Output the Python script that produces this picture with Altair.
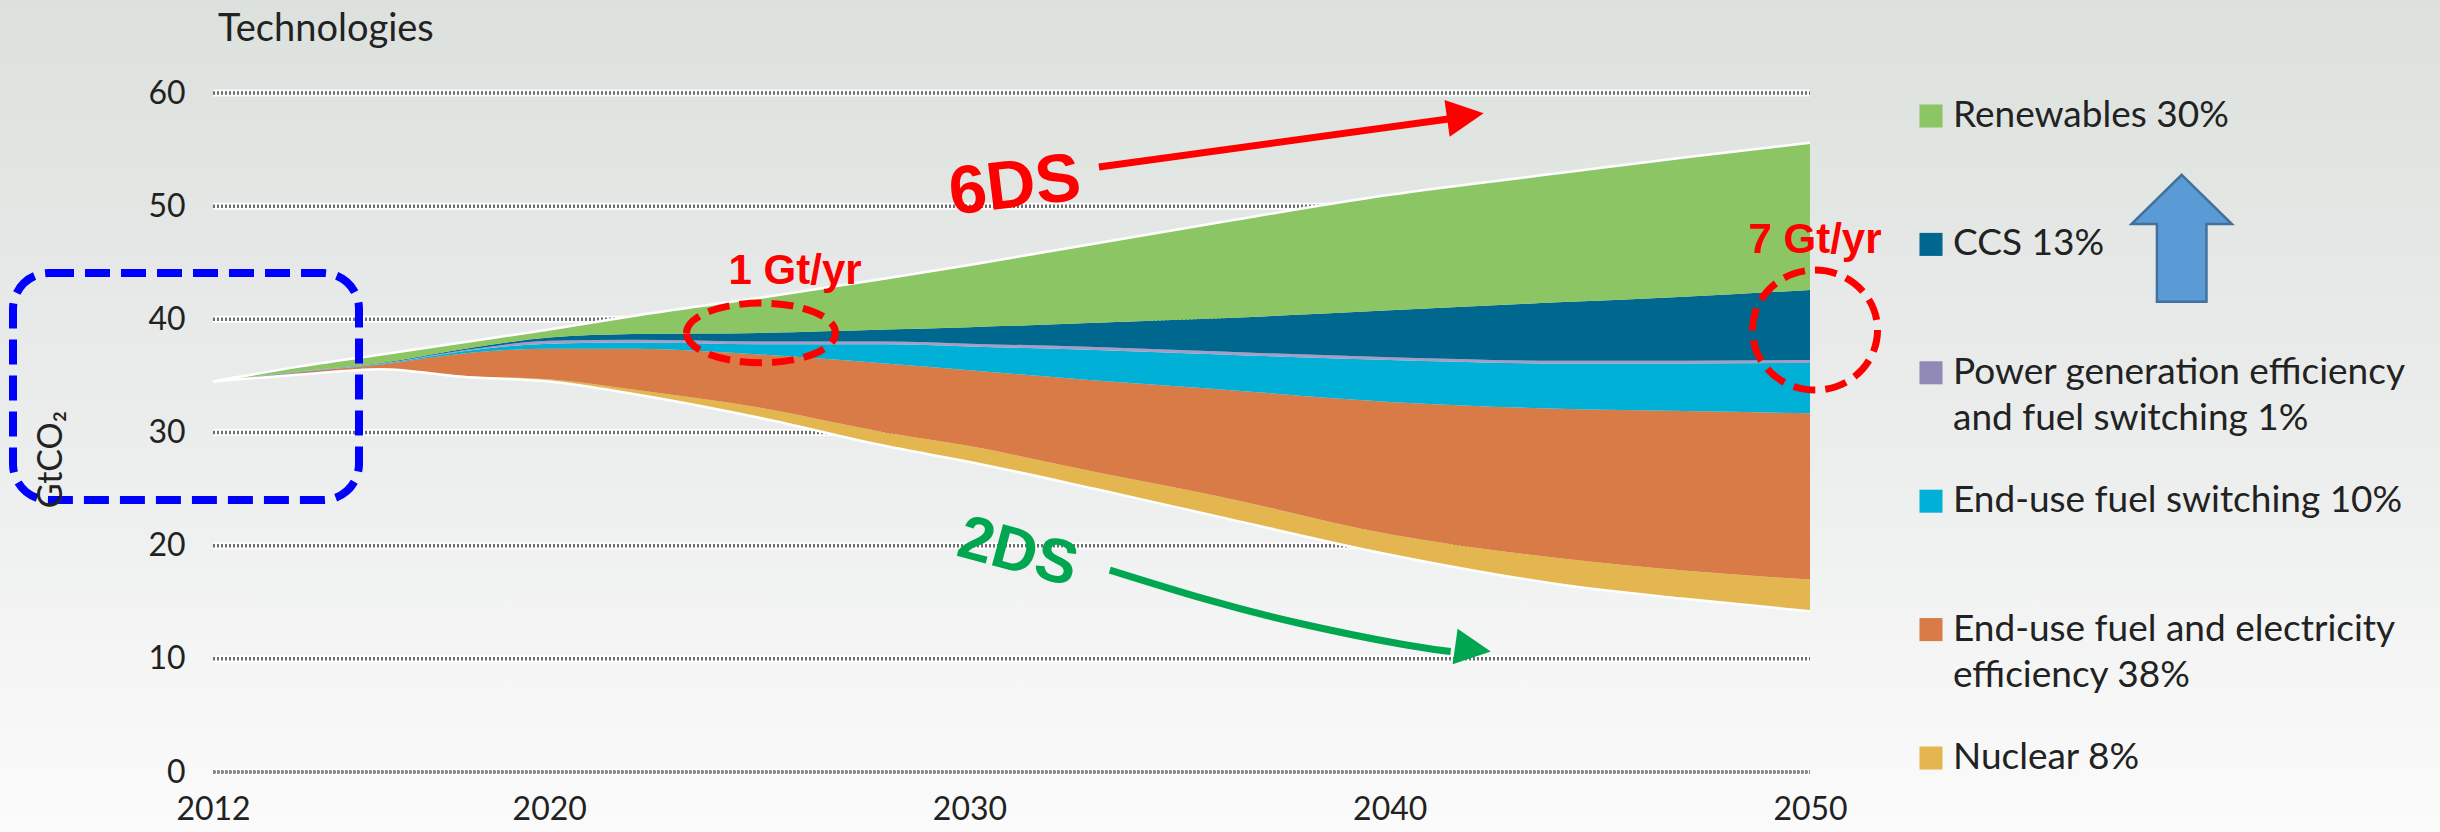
import altair as alt
import pandas as pd

# ---- CO2 emission reductions by technology, GtCO2 per year ----
years = [2012, 2014, 2016, 2018, 2020, 2022, 2025, 2028, 2030, 2033, 2036, 2040, 2044, 2047, 2050]
emissions_2ds = [34.5, 35.1, 35.6, 34.9, 34.5, 33.4, 31.3, 28.8, 27.4, 25.0, 22.5, 19.2, 16.6, 15.3, 14.2]
nuclear = [0.0, 0.0, 0.0, 0.1, 0.2, 0.4, 0.9, 1.2, 1.4, 1.5, 1.8, 1.8, 2.3, 2.5, 2.8]
end_use_efficiency = [0.0, 0.2, 0.4, 2.0, 2.7, 3.6, 4.7, 6.1, 6.7, 8.1, 9.5, 11.7, 13.2, 14.1, 14.7]
end_use_fuel_switching = [0.0, 0.05, 0.05, 0.2, 0.45, 0.55, 0.9, 1.7, 2.1, 2.7, 3.1, 3.7, 4.0, 4.2, 4.45]
power_generation = [0.0, 0.05, 0.05, 0.1, 0.25, 0.25, 0.25, 0.25, 0.25, 0.25, 0.25, 0.25, 0.25, 0.25, 0.25]
ccs = [0.0, 0.0, 0.05, 0.1, 0.3, 0.5, 0.75, 1.05, 1.45, 2.15, 2.95, 4.15, 5.15, 5.65, 6.2]
renewables = [0.0, 0.4, 0.75, 0.6, 0.7, 1.6, 3.1, 4.5, 5.5, 7.0, 8.5, 10.2, 11.4, 12.3, 13.0]

tech_names = ["Nuclear", "End-use fuel and electricity efficiency", "End-use fuel switching",
              "Power generation efficiency and fuel switching", "CCS", "Renewables"]
tech_series = [nuclear, end_use_efficiency, end_use_fuel_switching, power_generation, ccs, renewables]
tech_colors = ["#e4b64f", "#d97b46", "#00b0d6", "#a59dc6", "#00678f", "#8cc564"]

legend_labels = [["Renewables 30%"], ["CCS 13%"],
                 ["Power generation efficiency", "and fuel switching 1%"],
                 ["End-use fuel switching 10%"],
                 ["End-use fuel and electricity", "efficiency 38%"], ["Nuclear 8%"]]
legend_colors = ["#8cc564", "#00678f", "#9189b5", "#00b0d6", "#d97b46", "#e4b64f"]

x_ticks = [2012, 2020, 2030, 2040, 2050]
y_ticks = [0, 10, 20, 30, 40, 50, 60]

# ---- layout ----
W, H = 1597, 679
PAD_L, PAD_T = 213, 93
TEXT = "#222222"
FONT = "Lato"
BOLD_FONT = "Liberation Sans"

# stacked wedges on top of the 2DS pathway
rows = []
lower = list(emissions_2ds)
for name, vals in zip(tech_names, tech_series):
    for i, yr in enumerate(years):
        rows.append({"year": yr, "tech": name, "lo": lower[i], "hi": lower[i] + vals[i]})
    lower = [a + b for a, b in zip(lower, vals)]
bands = pd.DataFrame(rows)
edges = pd.DataFrame({"year": years * 2,
                      "val": lower + emissions_2ds,
                      "edge": ["6DS"] * len(years) + ["2DS"] * len(years)})

xs = alt.Scale(domain=[2012, 2050], nice=False, zero=False)
ys = alt.Scale(domain=[0, 60], nice=False, zero=True)

one = alt.Data(values=[{}])

background = alt.Chart(one).mark_rect(
    color=alt.Gradient(gradient="linear", x1=0, x2=0, y1=0, y2=1,
                       stops=[alt.GradientStop(color="#dce1dd", offset=0),
                              alt.GradientStop(color="#eceeed", offset=0.55),
                              alt.GradientStop(color="#fbfbfb", offset=1)])
).encode(x=alt.value(-PAD_L), x2=alt.value(2440 - PAD_L),
         y=alt.value(-PAD_T), y2=alt.value(832 - PAD_T))

grid_df = pd.DataFrame({"val": y_ticks})
grid_under = alt.Chart(grid_df).mark_rule(color="#ffffff", strokeWidth=7, opacity=0.85).encode(
    y=alt.Y("val:Q", scale=ys), x=alt.value(0), x2=alt.value(W))
grid_dots = alt.Chart(grid_df).mark_rule(color="#6e6e6e", strokeWidth=3.5, strokeDash=[2, 2]).encode(
    y=alt.Y("val:Q", scale=ys), x=alt.value(0), x2=alt.value(W))
zero_line = alt.Chart(pd.DataFrame({"val": [0]})).mark_rule(
    color="#8a8a8a", strokeWidth=3, strokeDash=[3, 1]).encode(
    y=alt.Y("val:Q", scale=ys), x=alt.value(0), x2=alt.value(W))

areas = alt.Chart(bands).mark_area(interpolate="monotone", opacity=1).encode(
    x=alt.X("year:Q", scale=xs,
            axis=alt.Axis(values=x_ticks, format="d", title=None, labelFlush=False, zindex=1,
                          labelFontSize=32, labelPadding=22, labelColor=TEXT, labelFont=FONT,
                          grid=False, ticks=False, domain=False)),
    y=alt.Y("lo:Q", scale=ys,
            axis=alt.Axis(values=y_ticks, labelFontSize=32, labelPadding=28, labelColor=TEXT,
                          labelFont=FONT, zindex=1, grid=False, ticks=False, domain=False,
                          title="GtCO₂", titleFontSize=34, titleFont=FONT,
                          titleFontWeight="normal", titleColor=TEXT, titleAngle=270,
                          titleX=-162, titleY=366, titleAlign="center", titleBaseline="middle")),
    y2="hi:Q",
    color=alt.Color("tech:N", scale=alt.Scale(domain=tech_names, range=tech_colors), legend=None),
)

edge_lines = alt.Chart(edges).mark_line(color="#ffffff", strokeWidth=2.5, interpolate="monotone").encode(
    x=alt.X("year:Q", scale=xs), y=alt.Y("val:Q", scale=ys), detail="edge:N")

# ---- annotations ----
blue_box = alt.Chart(one).mark_rect(
    filled=False, fill=None, stroke="#0000ff", strokeWidth=8, strokeDash=[25, 11], cornerRadius=36
).encode(x=alt.value(-200), x2=alt.value(146), y=alt.value(180), y2=alt.value(407))


def ellipse_path(k):
    c = 0.5523
    return (f"M -1 0 C -1 {-k*c} {-c} {-k} 0 {-k} C {c} {-k} 1 {-k*c} 1 0 "
            f"C 1 {k*c} {c} {k} 0 {k} C {-c} {k} -1 {k*c} -1 0 Z")


ring_small = alt.Chart(one).mark_point(
    shape=ellipse_path(0.40), size=149 ** 2, filled=False, color="#ff0000",
    strokeWidth=7, strokeDash=[22, 10], opacity=1
).encode(x=alt.datum(2025.04), y=alt.datum(38.8))

ring_large = alt.Chart(one).mark_point(
    shape=ellipse_path(0.96), size=125 ** 2, filled=False, color="#ff0000",
    strokeWidth=7, strokeDash=[22, 10], opacity=1
).encode(x=alt.datum(2050.12), y=alt.datum(39.05))

red_arrow_df = pd.DataFrame({"year": [2033.08, 2041.48], "val": [53.46, 57.75]})
red_shaft = alt.Chart(red_arrow_df).mark_line(color="#ff0000", strokeWidth=7).encode(
    x=alt.X("year:Q", scale=xs), y=alt.Y("val:Q", scale=ys))
HEAD = "M 1 0 L -1 -1 L -1 1 Z"
red_head = alt.Chart(one).mark_point(
    shape=HEAD, size=37 ** 2, filled=True, color="#ff0000", opacity=1, angle=352
).encode(x=alt.datum(2041.80), y=alt.datum(57.99))

green_arrow_df = pd.DataFrame({"year": [2033.34, 2035.63, 2037.72, 2040.55, 2041.45],
                               "val": [17.84, 15.19, 13.16, 11.04, 10.65]})
green_shaft = alt.Chart(green_arrow_df).mark_line(
    color="#00a650", strokeWidth=7, interpolate="basis").encode(
    x=alt.X("year:Q", scale=xs), y=alt.Y("val:Q", scale=ys))
green_head = alt.Chart(one).mark_point(
    shape=HEAD, size=36 ** 2, filled=True, color="#00a650", opacity=1, angle=8
).encode(x=alt.datum(2041.98), y=alt.datum(10.87))

label_6ds = alt.Chart(one).mark_text(
    text="6DS", font=BOLD_FONT, fontWeight="bold", fontSize=68, color="#ff0000", angle=353
).encode(x=alt.datum(2031.08), y=alt.datum(51.7))
label_2ds = alt.Chart(one).mark_text(
    text="2DS", font=BOLD_FONT, fontWeight="bold", fontSize=62, color="#00a650", angle=15
).encode(x=alt.datum(2031.15), y=alt.datum(19.4))
label_1gt = alt.Chart(one).mark_text(
    text="1 Gt/yr", font=BOLD_FONT, fontWeight="bold", fontSize=42, color="#ff0000"
).encode(x=alt.datum(2025.85), y=alt.datum(44.3))
label_7gt = alt.Chart(one).mark_text(
    text="7 Gt/yr", font=BOLD_FONT, fontWeight="bold", fontSize=42, color="#ff0000"
).encode(x=alt.datum(2050.12), y=alt.datum(47.0))

title = alt.Chart(one).mark_text(
    text="Technologies", align="left", baseline="middle", fontSize=38, font=FONT, color=TEXT
).encode(x=alt.value(5), y=alt.value(-63))

# ---- legend ----
leg_rows = []
for i, (lines, col) in enumerate(zip(legend_labels, legend_colors)):
    for j, line in enumerate(lines):
        leg_rows.append({"entry": i, "line": j, "label": line, "swatch": col})
leg_base = alt.Chart(pd.DataFrame(leg_rows)).transform_calculate(
    py="23 + datum.entry * 128.4 + datum.line * 46")
legend_text = leg_base.mark_text(
    align="left", baseline="middle", fontSize=37, font=FONT, color=TEXT
).encode(x=alt.value(1740), y=alt.Y("py:Q", scale=None), text="label:N")
legend_swatch = leg_base.transform_filter("datum.line == 0").mark_square(
    size=530, opacity=1
).encode(x=alt.value(1718), y=alt.Y("py:Q", scale=None), color=alt.Color("swatch:N", scale=None))

UP_ARROW = ("M 0 -1 L 0.79 -0.225 L 0.39 -0.225 L 0.39 1 L -0.39 1 "
            "L -0.39 -0.225 L -0.79 -0.225 Z")
blue_arrow = alt.Chart(one).mark_point(
    shape=UP_ARROW, size=127 ** 2, filled=True, fill="#5b9bd5", stroke="#41719c",
    strokeWidth=2.5, opacity=1
).encode(x=alt.value(1968.7), y=alt.value(145.3))

chart = alt.layer(
    background, grid_under, grid_dots, zero_line, areas, edge_lines,
    blue_box, ring_small, ring_large,
    red_shaft, red_head, green_shaft, green_head,
    label_6ds, label_2ds, label_1gt, label_7gt,
    title, legend_swatch, legend_text, blue_arrow,
).properties(
    width=W, height=H,
    autosize=alt.AutoSizeParams(type="none"),
    padding={"left": PAD_L, "top": PAD_T, "right": 2440 - PAD_L - W, "bottom": 832 - PAD_T - H},
).configure_view(stroke=None).configure_axis(
    grid=False, ticks=False, domain=False
)

chart.save("out.html", embed_options={"renderer": "svg", "actions": False})
